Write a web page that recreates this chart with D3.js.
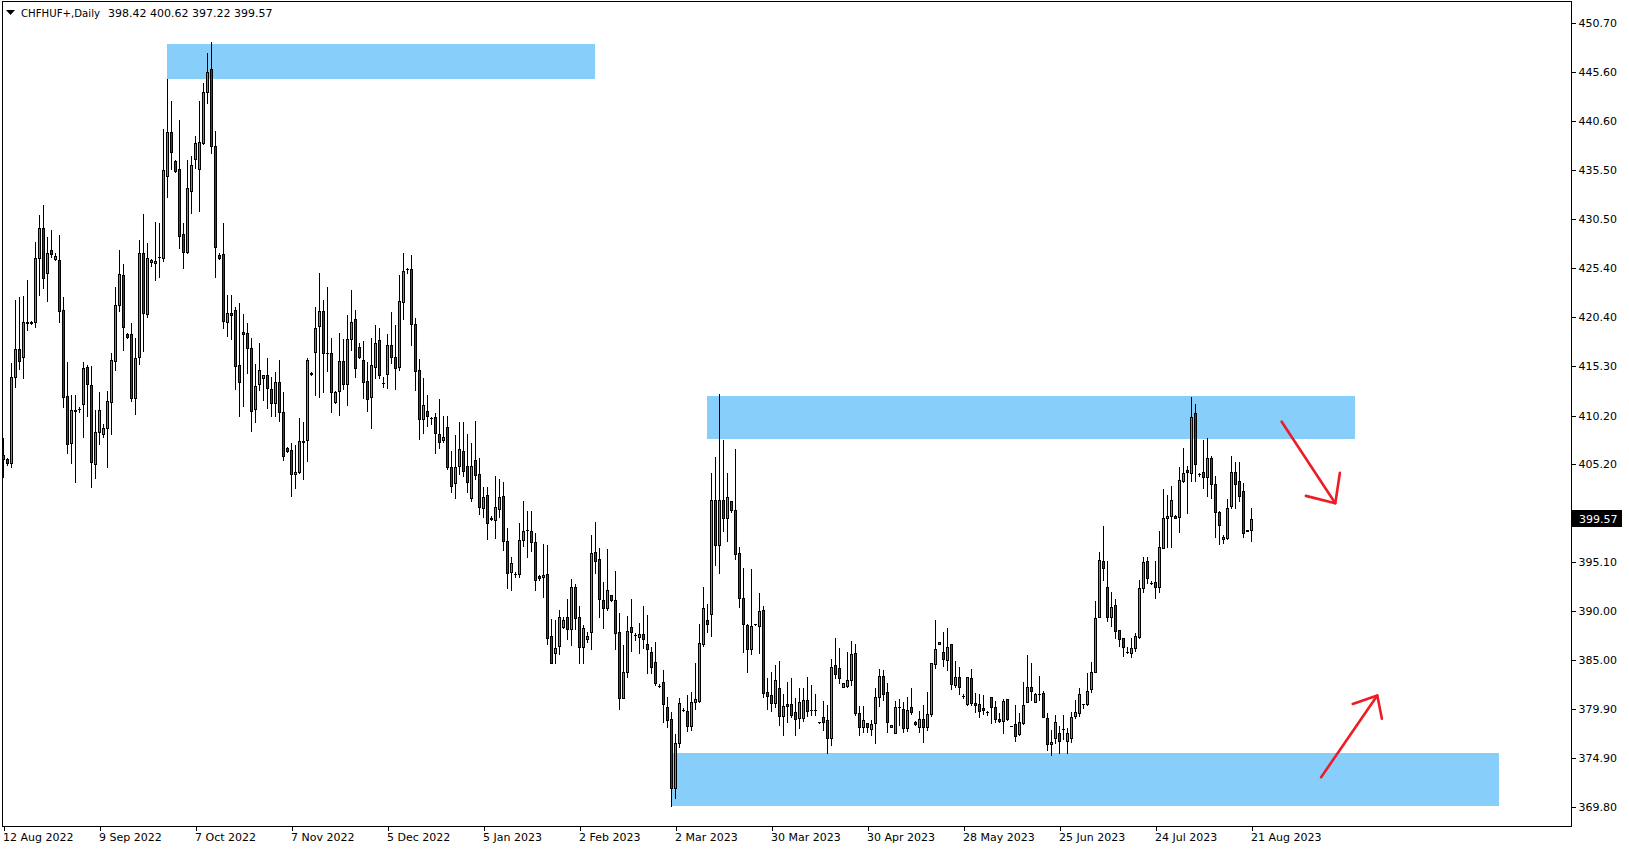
<!DOCTYPE html>
<html>
<head>
<meta charset="utf-8">
<script src="https://cdn.jsdelivr.net/npm/d3@7"></script>
<style>
  html, body { margin: 0; padding: 0; background: #ffffff; overflow: hidden; }
  svg { display: block; }
  text { font-family: "DejaVu Sans", Verdana, sans-serif; }
</style>
</head>
<body>
<svg id="chart" width="1629" height="850"></svg>
<script>
// ---------------- DATA ----------------
const symbolName = "CHFHUF+,Daily";

const opens = [
  406.1, 405.7, 405.35, 414.15, 417.04, 416.21, 419.8, 419.7, 419.82, 426.49,
  429.52, 424.87, 427.25, 426.4, 426.25, 421.09, 412.22, 407.34, 410.7, 410.9,
  411.36, 415.18, 413.36, 405.18, 408.55, 408.27, 408.96, 411.64, 415.87, 421.61,
  424.67, 418.6, 418.58, 412.0, 416.28, 426.94, 420.65, 426.0, 425.9, 426.6,
  426.48, 434.94, 439.41, 436.45, 435.6, 428.89, 427.1, 433.4, 436.63, 435.6,
  438.28, 443.61, 445.91, 438.0, 426.76, 426.83, 419.88, 420.81, 421.05, 415.41,
  418.78, 418.68, 417.13, 410.84, 413.42, 414.04, 414.38, 412.94, 411.46, 413.63,
  410.6, 406.82, 406.65, 404.14, 404.34, 407.57, 407.68, 414.56, 416.8, 419.4,
  420.99, 416.62, 416.62, 411.57, 412.77, 415.83, 413.42, 418.06, 420.13, 417.31,
  415.93, 413.8, 412.15, 415.24, 417.99, 413.53, 414.45, 417.45, 416.21, 415.24,
  421.95, 425.29, 425.29, 419.61, 414.9, 409.81, 410.64, 410.0, 410.02, 408.27,
  407.68, 409.06, 404.93, 403.21, 405.04, 406.58, 405.04, 401.67, 405.58, 404.14,
  400.63, 401.98, 399.67, 399.43, 400.53, 401.91, 397.27, 394.11, 393.87, 393.83,
  397.37, 398.4, 398.34, 397.13, 393.69, 393.52, 393.83, 387.51, 385.75, 386.48,
  388.43, 389.47, 388.16, 392.49, 389.47, 386.37, 387.13, 387.92, 396.1, 395.38,
  391.18, 390.33, 391.67, 391.18, 387.85, 381.04, 383.72, 388.44, 387.58, 387.41,
  387.65, 386.61, 385.79, 384.76, 382.31, 382.76, 380.11, 378.88, 371.76, 376.4,
  379.84, 379.73, 378.21, 380.62, 380.79, 386.64, 389.08, 389.7, 401.45, 396.81,
  401.45, 399.6, 401.35, 400.46, 395.99, 391.35, 388.6, 386.09, 388.67, 388.46,
  390.11, 381.65, 381.38, 380.52, 382.06, 379.25, 380.42, 380.42, 379.59, 378.97,
  378.97, 380.86, 379.83, 379.83, 378.56, 379.07, 378.8, 376.98, 384.47, 384.13,
  382.24, 382.34, 382.93, 385.67, 379.55, 378.04, 378.45, 377.84, 378.46, 381.21,
  383.34, 381.66, 378.05, 377.43, 380.11, 379.9, 378.01, 380.11, 378.56, 378.05,
  378.87, 378.05, 379.39, 384.58, 386.61, 385.85, 384.99, 386.61, 382.41, 383.2,
  381.24, 380.42, 383.1, 380.52, 380.42, 380.0, 379.59, 381.14, 380.11, 378.91,
  378.7, 380.93, 378.18, 378.36, 377.32, 378.46, 380.63, 382.17, 380.7, 381.45,
  381.55, 378.97, 376.29, 376.9, 377.5, 377.87, 376.6, 376.9, 379.25, 379.55,
  380.41, 380.41, 381.96, 383.78, 389.39, 395.2, 392.52, 389.39, 390.66, 388.08,
  387.22, 385.85, 385.67, 386.19, 387.39, 392.45, 395.2, 392.96, 393.0, 392.48,
  396.5, 399.6, 399.87, 399.87, 399.7, 403.49, 404.58, 404.31, 410.43, 404.14,
  404.34, 403.83, 405.79, 403.1, 400.22, 397.43, 397.54, 400.9, 404.41, 403.48,
  402.45, 398.3, 398.42
];
const highs = [
  407.9, 405.8, 415.66, 422.12, 422.4, 422.54, 424.19, 420.0, 428.14, 430.89,
  431.92, 428.66, 429.35, 427.0, 428.83, 422.47, 415.73, 412.33, 412.33, 411.1,
  415.76, 415.42, 415.35, 410.78, 412.67, 409.3, 412.77, 416.62, 423.5, 427.28,
  425.84, 418.7, 419.72, 418.17, 428.31, 430.99, 428.04, 426.3, 430.2, 430.1,
  439.75, 444.91, 442.64, 436.56, 440.68, 430.03, 436.56, 437.0, 439.03, 442.64,
  444.47, 447.56, 448.76, 439.55, 426.93, 430.03, 422.63, 422.63, 421.43, 421.77,
  420.64, 419.71, 418.23, 415.48, 417.65, 414.38, 416.17, 414.21, 414.73, 415.93,
  412.66, 406.99, 407.33, 407.16, 409.91, 409.57, 416.1, 414.73, 421.43, 424.94,
  422.12, 423.43, 418.17, 412.77, 418.68, 418.13, 420.57, 423.15, 421.09, 417.65,
  417.89, 415.76, 418.17, 419.54, 419.2, 414.14, 418.61, 420.92, 419.54, 424.7,
  426.94, 425.46, 426.76, 420.23, 416.0, 414.11, 412.32, 410.02, 410.43, 411.88,
  410.16, 410.16, 406.55, 408.2, 409.5, 409.5, 408.27, 407.34, 409.64, 405.79,
  402.8, 402.8, 399.84, 403.97, 403.66, 403.3, 398.65, 395.65, 394.11, 399.16,
  401.4, 400.36, 400.36, 398.13, 393.76, 396.96, 396.86, 389.23, 389.12, 390.15,
  389.47, 391.29, 393.35, 392.83, 390.57, 388.61, 387.92, 397.89, 399.19, 396.51,
  393.08, 396.41, 391.7, 394.18, 389.81, 386.54, 389.53, 391.32, 387.82, 388.78,
  390.57, 389.64, 386.37, 386.89, 382.52, 383.96, 381.21, 379.67, 377.36, 381.11,
  380.01, 381.38, 381.72, 384.64, 388.7, 392.55, 390.73, 404.31, 405.92, 412.42,
  407.68, 404.31, 401.42, 406.75, 396.61, 394.44, 388.7, 394.34, 388.7, 391.86,
  390.56, 383.1, 383.71, 384.47, 384.88, 381.45, 382.75, 383.1, 381.03, 382.06,
  382.06, 383.2, 382.41, 381.48, 378.6, 380.76, 380.35, 385.09, 387.22, 386.19,
  382.58, 385.85, 386.95, 386.64, 380.28, 380.28, 378.45, 378.8, 382.07, 384.03,
  383.96, 382.58, 378.29, 380.8, 380.97, 380.69, 381.14, 382.07, 378.73, 379.77,
  380.35, 381.73, 384.65, 389.12, 386.81, 387.91, 388.26, 386.61, 384.89, 384.3,
  381.48, 383.27, 384.03, 381.62, 381.45, 381.38, 379.77, 381.14, 380.8, 379.49,
  380.93, 380.93, 378.2, 380.35, 379.49, 382.76, 385.51, 384.65, 381.55, 383.34,
  381.83, 379.49, 377.77, 379.31, 378.2, 379.31, 378.0, 379.66, 380.86, 382.13,
  380.41, 383.61, 384.75, 391.07, 396.16, 398.81, 395.2, 391.97, 391.28, 388.08,
  387.22, 386.36, 387.29, 387.74, 393.24, 395.65, 395.65, 393.17, 395.2, 398.29,
  402.62, 402.0, 402.93, 399.94, 404.93, 406.89, 404.99, 412.08, 411.39, 404.31,
  407.68, 407.85, 406.03, 403.96, 400.36, 397.88, 401.59, 406.06, 405.37, 405.37,
  403.21, 398.45, 400.62
];
const lows = [
  403.9, 405.1, 404.93, 413.19, 415.0, 414.11, 419.03, 419.6, 419.37, 422.64,
  423.4, 422.06, 426.59, 426.25, 419.89, 411.05, 406.38, 405.35, 403.39, 410.6,
  407.96, 410.19, 402.8, 403.73, 407.24, 408.03, 404.87, 408.3, 414.9, 421.03,
  416.97, 418.2, 411.71, 410.33, 415.52, 416.9, 420.41, 425.6, 424.19, 424.5,
  426.14, 432.78, 435.63, 435.29, 427.45, 425.45, 427.0, 431.06, 435.77, 431.33,
  438.18, 442.47, 437.25, 424.52, 426.35, 419.26, 418.44, 418.06, 412.9, 410.19,
  411.22, 414.62, 408.64, 409.57, 412.84, 411.8, 411.01, 410.19, 410.19, 409.67,
  405.62, 406.41, 401.94, 402.76, 404.24, 403.62, 405.51, 414.38, 412.32, 412.15,
  412.67, 414.83, 410.6, 411.46, 410.26, 412.98, 411.29, 416.96, 414.14, 416.11,
  412.05, 410.71, 408.89, 414.04, 414.04, 413.18, 413.08, 415.66, 412.94, 414.9,
  420.16, 424.87, 417.48, 412.84, 407.79, 408.44, 409.16, 409.33, 406.31, 406.82,
  407.51, 404.72, 402.35, 401.67, 404.17, 403.97, 402.35, 401.42, 403.63, 400.05,
  399.77, 397.44, 399.43, 397.54, 399.77, 396.34, 392.46, 392.22, 393.59, 393.59,
  396.75, 395.65, 396.27, 392.22, 393.25, 391.46, 386.65, 384.65, 384.65, 385.62,
  388.33, 387.13, 386.54, 388.16, 384.72, 384.72, 386.89, 386.1, 394.0, 389.47,
  388.26, 390.15, 391.08, 386.1, 379.91, 381.04, 383.28, 385.93, 387.06, 385.75,
  386.2, 383.62, 383.69, 382.42, 382.25, 378.64, 378.05, 369.94, 370.73, 375.99,
  379.74, 377.7, 377.77, 379.93, 380.69, 386.46, 387.91, 387.5, 394.78, 393.99,
  398.33, 397.29, 400.29, 395.37, 390.49, 385.85, 383.71, 385.57, 388.6, 385.67,
  381.14, 379.93, 379.76, 380.17, 378.28, 377.25, 378.63, 379.14, 377.25, 377.94,
  378.73, 379.21, 379.31, 379.31, 378.5, 377.77, 375.36, 376.22, 383.16, 382.65,
  382.24, 382.24, 382.41, 379.31, 377.25, 377.6, 377.6, 377.26, 376.4, 380.25,
  380.87, 377.6, 378.05, 377.43, 378.29, 377.53, 377.7, 379.42, 378.29, 377.6,
  376.57, 377.77, 379.25, 384.13, 386.61, 384.37, 383.96, 381.97, 382.24, 381.48,
  381.04, 380.35, 380.35, 379.66, 379.15, 379.39, 379.32, 378.53, 378.63, 378.56,
  377.43, 378.8, 378.15, 376.67, 377.26, 378.36, 380.63, 380.87, 380.7, 380.87,
  379.08, 375.71, 375.19, 376.4, 375.4, 376.8, 375.4, 376.5, 378.97, 379.25,
  380.07, 380.35, 381.65, 383.72, 389.39, 393.24, 389.01, 388.53, 387.22, 386.46,
  385.43, 385.67, 385.33, 385.95, 387.22, 391.97, 392.96, 392.83, 391.41, 392.03,
  396.5, 396.68, 396.68, 399.6, 398.22, 403.38, 400.11, 403.45, 403.45, 403.96,
  402.76, 401.94, 401.73, 397.71, 396.92, 397.02, 397.47, 400.63, 400.63, 401.39,
  397.71, 398.25, 397.22
];
const closes = [
  405.7, 405.3, 414.15, 417.04, 415.87, 419.82, 419.9, 419.9, 426.42, 429.52,
  424.43, 426.94, 426.83, 426.7, 421.02, 412.15, 407.27, 410.78, 410.8, 410.9,
  415.08, 413.43, 405.45, 408.48, 410.78, 408.89, 411.71, 415.94, 421.61, 424.77,
  419.37, 418.3, 412.05, 416.11, 426.94, 420.75, 426.42, 426.2, 426.1, 426.6,
  435.53, 439.48, 437.42, 435.42, 428.75, 427.03, 433.63, 436.04, 438.28, 438.38,
  443.61, 445.6, 438.04, 427.62, 426.42, 420.0, 420.74, 420.57, 415.34, 413.69,
  418.58, 417.13, 410.7, 413.25, 414.9, 414.38, 413.01, 411.46, 413.69, 410.53,
  406.06, 406.54, 404.14, 404.34, 407.57, 407.44, 415.93, 414.52, 419.2, 420.99,
  416.62, 416.62, 412.67, 412.67, 415.83, 413.42, 418.1, 419.82, 415.07, 416.28,
  413.7, 411.88, 415.38, 417.65, 414.38, 413.53, 417.45, 416.21, 415.07, 421.98,
  425.08, 425.29, 419.61, 414.83, 409.81, 411.29, 410.16, 410.0, 408.37, 407.44,
  408.03, 404.93, 402.94, 404.93, 406.72, 404.52, 403.32, 404.97, 404.04, 400.81,
  401.84, 399.09, 399.5, 400.74, 401.84, 397.3, 393.93, 394.97, 393.87, 397.37,
  398.34, 398.4, 397.13, 393.25, 393.42, 393.73, 387.3, 384.65, 386.2, 389.4,
  389.12, 388.16, 392.49, 389.3, 386.37, 388.26, 387.47, 396.0, 395.24, 391.25,
  390.33, 392.22, 391.18, 387.75, 381.04, 383.72, 388.02, 387.85, 387.58, 387.65,
  387.13, 386.1, 384.31, 382.66, 382.31, 380.42, 378.81, 371.76, 376.4, 380.53,
  379.84, 378.21, 380.62, 380.96, 386.71, 390.31, 388.73, 401.45, 396.81, 401.45,
  399.6, 401.76, 400.42, 395.88, 391.35, 388.67, 386.09, 388.49, 388.67, 390.04,
  381.55, 381.31, 380.52, 382.89, 379.25, 380.28, 380.28, 379.31, 378.87, 380.62,
  380.86, 379.73, 379.83, 379.83, 378.56, 378.63, 376.91, 384.23, 383.51, 383.1,
  382.58, 382.93, 385.61, 379.55, 378.11, 378.8, 378.04, 378.39, 381.14, 383.34,
  381.45, 378.63, 378.29, 380.11, 380.11, 378.01, 379.83, 379.66, 378.36, 378.87,
  378.05, 379.39, 384.65, 386.09, 386.81, 385.06, 386.37, 382.48, 383.2, 382.17,
  381.24, 383.2, 380.52, 380.35, 379.73, 379.83, 379.59, 380.11, 378.91, 378.7,
  380.76, 378.87, 378.18, 377.15, 378.56, 380.35, 382.17, 381.83, 381.45, 381.45,
  379.08, 376.29, 376.5, 378.56, 376.6, 377.87, 377.5, 379.07, 379.59, 381.45,
  380.41, 381.79, 383.72, 389.28, 395.3, 394.44, 389.46, 390.45, 388.01, 387.12,
  386.36, 385.85, 386.19, 387.46, 392.38, 395.06, 393.48, 392.96, 392.48, 396.61,
  399.6, 399.84, 401.45, 399.6, 403.52, 404.24, 404.34, 410.08, 405.17, 404.14,
  403.83, 405.79, 403.1, 400.22, 398.91, 397.64, 400.7, 404.41, 403.1, 401.94,
  398.05, 398.42, 399.57
];

// x-axis tick labels (one every 24 bars)
const xTickLabels = ["12 Aug 2022", "9 Sep 2022", "7 Oct 2022", "7 Nov 2022", "5 Dec 2022",
  "5 Jan 2023", "2 Feb 2023", "2 Mar 2023", "30 Mar 2023", "30 Apr 2023",
  "28 May 2023", "25 Jun 2023", "24 Jul 2023", "21 Aug 2023"];
const xTickEvery = 24;

// y-axis tick labels
const yTickLabels = ["450.70", "445.60", "440.60", "435.50", "430.50", "425.40", "420.40",
  "415.30", "410.20", "405.20", "400.10", "395.10", "390.00", "385.00", "379.90",
  "374.90", "369.80"];

// supply / demand zones (bar index span, price span)
const zoneStartBar = [41, 176, 167];
const zoneEndBar = [148, 338, 374];
const zoneTopPrice = [448.52, 412.22, 375.42];
const zoneBottomPrice = [444.95, 407.79, 369.94];

// hand-drawn arrows (bar index / price)
const arrowStartBar = [319.55, 329.4];
const arrowStartPrice = [409.57, 372.9];
const arrowTipBar = [332.95, 343.45];
const arrowTipPrice = [401.16, 381.32];
const arrowArm1Bar = [334.1, 337.3];
const arrowArm1Price = [404.31, 380.46];
const arrowArm2Bar = [325.6, 344.6];
const arrowArm2Price = [401.92, 378.93];

// ---------------- DRAW ----------------
const W = 1629, H = 850;
const frame = { left: 2.5, top: 1.5, right: 1571.5, bottom: 826.5 };
const bullColor = "#00e000", bearColor = "#e00000";
const zoneColor = "#87cefa", arrowColor = "#ee1c24";

const svg = d3.select("#chart");
const nBars = opens.length;

const x = d3.scaleLinear().domain([0, nBars - 1]).range([3.5, 3.5 + 4 * (nBars - 1)]);
const y = d3.scaleLinear().domain([369.8, 450.7]).range([807.3, 22.9]);

svg.append("rect").attr("width", W).attr("height", H).attr("fill", "#ffffff");

svg.append("defs").append("clipPath").attr("id", "plotClip")
  .append("rect")
  .attr("x", frame.left + 0.5).attr("y", frame.top + 0.5)
  .attr("width", frame.right - frame.left - 1).attr("height", frame.bottom - frame.top - 1);

const plot = svg.append("g").attr("clip-path", "url(#plotClip)");

// zones
const zones = d3.range(zoneStartBar.length).map(k => ({
  x0: zoneStartBar[k], x1: zoneEndBar[k], top: zoneTopPrice[k], bot: zoneBottomPrice[k]
}));
plot.append("g").selectAll("rect").data(zones).join("rect")
  .attr("x", d => Math.round(x(d.x0) - 0.5))
  .attr("y", d => Math.round(y(d.top)))
  .attr("width", d => Math.round(x(d.x1) - x(d.x0)))
  .attr("height", d => Math.round(y(d.bot)) - Math.round(y(d.top)))
  .attr("fill", zoneColor)
  .attr("shape-rendering", "crispEdges");

// candles
const bars = d3.range(nBars).map(i => ({ i, o: opens[i], h: highs[i], l: lows[i], c: closes[i] }));
const candleG = plot.append("g").attr("shape-rendering", "crispEdges");

// wicks
candleG.append("g").selectAll("rect").data(bars).join("rect")
  .attr("x", d => x(d.i) - 0.5)
  .attr("y", d => Math.round(y(d.h)))
  .attr("width", 1)
  .attr("height", d => Math.max(1, Math.round(y(d.l)) - Math.round(y(d.h)) + 1))
  .attr("fill", "#000000");

// bodies
candleG.append("g").selectAll("rect").data(bars).join("rect")
  .each(function (d) {
    const yt = Math.round(y(Math.max(d.o, d.c)));
    const yb = Math.round(y(Math.min(d.o, d.c)));
    const sel = d3.select(this);
    if (yb - yt < 2) {
      sel.attr("x", x(d.i) - 1.5).attr("y", yt).attr("width", 3)
        .attr("height", Math.max(1, yb - yt + 1))
        .attr("fill", "#000000");
    } else {
      sel.attr("x", x(d.i) - 1).attr("y", yt + 0.5).attr("width", 2)
        .attr("height", yb - yt)
        .attr("fill", d.c > d.o ? bullColor : bearColor)
        .attr("stroke", "#000000").attr("stroke-width", 1);
    }
  });

// arrows
const arrows = d3.range(arrowStartBar.length).map(k => ({
  s: [x(arrowStartBar[k]), y(arrowStartPrice[k])],
  t: [x(arrowTipBar[k]), y(arrowTipPrice[k])],
  a1: [x(arrowArm1Bar[k]), y(arrowArm1Price[k])],
  a2: [x(arrowArm2Bar[k]), y(arrowArm2Price[k])]
}));
const line = d3.line();
const arrowG = svg.append("g").attr("fill", "none").attr("stroke", arrowColor)
  .attr("stroke-width", 2.6).attr("stroke-linecap", "round").attr("stroke-linejoin", "round");
arrows.forEach(a => {
  arrowG.append("path").attr("d", line([a.s, a.t]));
  arrowG.append("path").attr("d", line([a.a1, a.t, a.a2]));
});

// frame
svg.append("rect")
  .attr("x", frame.left).attr("y", frame.top)
  .attr("width", frame.right - frame.left).attr("height", frame.bottom - frame.top)
  .attr("fill", "none").attr("stroke", "#000000").attr("stroke-width", 1)
  .attr("shape-rendering", "crispEdges");

// y axis
const yTickValues = yTickLabels.map(s => +s);
const yAxis = d3.axisRight(y).tickValues(yTickValues)
  .tickFormat((d, i) => yTickLabels[i]).tickSize(4).tickPadding(3);
const yAxisG = svg.append("g").attr("transform", `translate(${frame.right},0)`).call(yAxis);
yAxisG.select(".domain").remove();
yAxisG.selectAll(".tick line").attr("stroke", "#000").attr("shape-rendering", "crispEdges");
yAxisG.selectAll(".tick text").attr("fill", "#000").attr("font-size", 11)
  .attr("font-family", "DejaVu Sans, Verdana, sans-serif");

// x axis
const xTickBars = xTickLabels.map((s, k) => k * xTickEvery);
const xAxis = d3.axisBottom(x).tickValues(xTickBars)
  .tickFormat((d, i) => xTickLabels[i]).tickSize(4).tickPadding(3);
const xAxisG = svg.append("g").attr("transform", `translate(0,${frame.bottom})`).call(xAxis);
xAxisG.select(".domain").remove();
xAxisG.selectAll(".tick line").attr("stroke", "#000").attr("shape-rendering", "crispEdges");
xAxisG.selectAll(".tick text").attr("fill", "#000").attr("font-size", 11)
  .attr("text-anchor", "start").attr("x", -1)
  .attr("font-family", "DejaVu Sans, Verdana, sans-serif");

// current price label (drawn over the covered axis label, as in the terminal)
const last = nBars - 1;
const lastY = y(closes[last]);
svg.append("rect")
  .attr("x", frame.right + 0.5).attr("y", Math.round(lastY - 8.5))
  .attr("width", 50).attr("height", 17).attr("fill", "#000000")
  .attr("shape-rendering", "crispEdges");
svg.append("text")
  .attr("x", frame.right + 7.5).attr("y", lastY).attr("dy", "0.35em")
  .attr("font-size", 11).attr("fill", "#ffffff")
  .text(closes[last].toFixed(2));

// header
svg.append("path").attr("d", "M6,10 L15,10 L10.5,15 Z").attr("fill", "#000000");
svg.append("text").attr("x", 21).attr("y", 17).attr("font-size", 11).attr("fill", "#000")
  .attr("textLength", 79).attr("lengthAdjust", "spacingAndGlyphs")
  .text(symbolName);
svg.append("text").attr("x", 108).attr("y", 17).attr("font-size", 11).attr("fill", "#000")
  .text([opens[last], highs[last], lows[last], closes[last]].map(v => v.toFixed(2)).join(" "));
</script>
</body>
</html>
